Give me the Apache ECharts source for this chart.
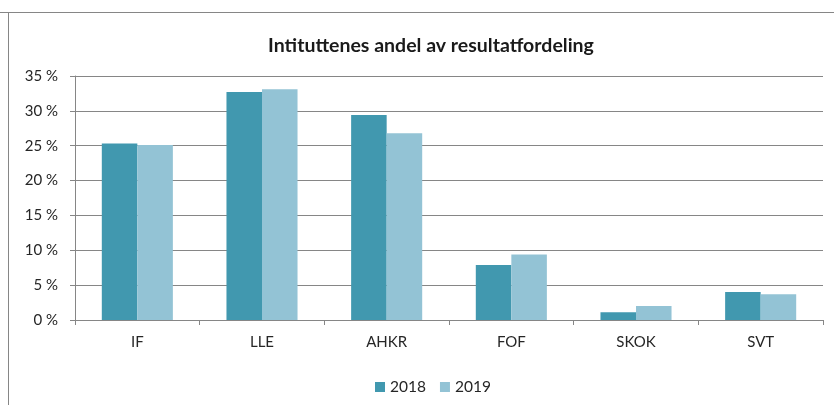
<!DOCTYPE html>
<html>
<head>
<meta charset="utf-8">
<script src="https://cdn.jsdelivr.net/npm/echarts@6/dist/echarts.min.js"></script>
<style>
html,body{margin:0;padding:0;background:#fff;}
#chart{width:834px;height:405px;}
</style>
</head>
<body>
<div id="chart"></div>
<script>
var categories = ['IF', 'LLE', 'AHKR', 'FOF', 'SKOK', 'SVT'];
var values2018 = [25.3, 32.7, 29.4, 7.9, 1.1, 4.0];
var values2019 = [25.1, 33.1, 26.8, 9.4, 2.0, 3.7];
var seriesNames = ['2018', '2019'];

var chart = echarts.init(document.getElementById('chart'), null, {renderer: 'canvas'});
var font = 'Lato, "Open Sans", sans-serif';
var gray = '#868686';
chart.setOption({
  animation: false,
  textStyle: {fontFamily: font},
  title: {
    text: 'Intituttenes andel av resultatfordeling',
    left: 426, top: 31, textAlign: 'center',
    textStyle: {fontFamily: font, fontSize: 19.5, fontWeight: 'bold', color: '#1a1a1a'}
  },
  legend: {
    data: seriesNames,
    top: 374,
    left: 370,
    itemWidth: 10, itemHeight: 10, itemGap: 14,
    icon: 'rect',
    textStyle: {fontFamily: font, fontSize: 15.5, color: '#262626'}
  },
  grid: {left: 75, right: 11, top: 76, bottom: 85, containLabel: false},
  xAxis: {
    type: 'category',
    data: categories,
    axisLine: {lineStyle: {color: gray, width: 1}},
    axisTick: {show: true, length: 5, alignWithLabel: false, lineStyle: {color: gray}},
    axisLabel: {fontFamily: font, fontSize: 15, color: '#262626', margin: 15}
  },
  yAxis: {
    type: 'value',
    min: 0, max: 35, interval: 5,
    axisLine: {show: true, lineStyle: {color: gray, width: 1}},
    axisTick: {show: true, length: 5, lineStyle: {color: gray}},
    splitLine: {lineStyle: {color: gray, width: 1}},
    axisLabel: {fontFamily: font, fontSize: 15, color: '#262626', margin: 17,
      formatter: function (v) { return v + ' %'; }}
  },
  series: [
    {name: seriesNames[0], type: 'bar', data: values2018, barGap: '0%', barCategoryGap: '43%',
     itemStyle: {color: '#4198AF'}},
    {name: seriesNames[1], type: 'bar', data: values2019, barGap: '0%', barCategoryGap: '43%',
     itemStyle: {color: '#93C3D5'}}
  ],
  graphic: [
    {type: 'line', shape: {x1: 0, y1: 12.5, x2: 834, y2: 12.5}, style: {stroke: gray, lineWidth: 1}, silent: true},
    {type: 'line', shape: {x1: 8.5, y1: 12, x2: 8.5, y2: 405}, style: {stroke: gray, lineWidth: 1}, silent: true}
  ]
});
</script>
</body>
</html>
